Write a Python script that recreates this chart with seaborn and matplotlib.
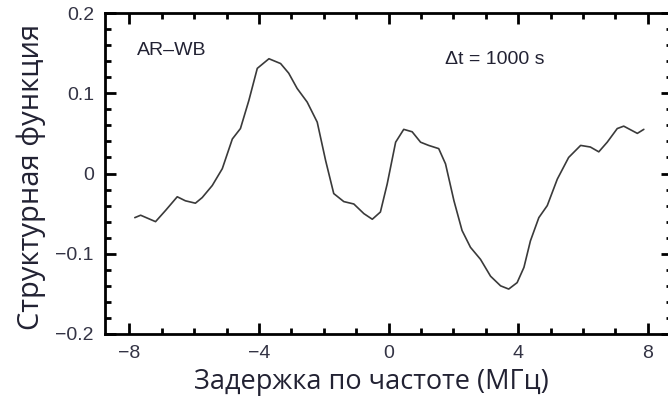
import numpy as np
import pandas as pd
import matplotlib
matplotlib.use("Agg")
import matplotlib.pyplot as plt
from matplotlib.ticker import MultipleLocator
import seaborn as sns

# frequency lag (MHz) and structure function values
lag = [-7.83, -7.65, -7.19, -6.88, -6.52, -6.27, -5.96, -5.75, -5.44, -5.13,
       -4.82, -4.57, -4.31, -4.05, -3.69, -3.33, -3.08, -2.82, -2.51, -2.20,
       -1.94, -1.69, -1.38, -1.07, -0.76, -0.50, -0.25, -0.04, 0.22, 0.47,
       0.73, 0.99, 1.24, 1.55, 1.76, 2.02, 2.27, 2.53, 2.84, 3.15,
       3.46, 3.71, 3.97, 4.18, 4.38, 4.64, 4.90, 5.21, 5.56, 5.93,
       6.23, 6.49, 6.75, 7.06, 7.26, 7.68, 7.88]
sf = [-0.055, -0.052, -0.060, -0.046, -0.029, -0.034, -0.037, -0.030, -0.015, 0.006,
      0.043, 0.056, 0.091, 0.131, 0.143, 0.137, 0.125, 0.106, 0.089, 0.064,
      0.016, -0.025, -0.035, -0.038, -0.050, -0.057, -0.048, -0.013, 0.039, 0.055,
      0.052, 0.039, 0.035, 0.031, 0.012, -0.034, -0.071, -0.092, -0.107, -0.128,
      -0.140, -0.144, -0.136, -0.117, -0.084, -0.055, -0.040, -0.007, 0.020, 0.035,
      0.033, 0.027, 0.039, 0.056, 0.059, 0.050, 0.055]

xlabel = "Задержка по частоте (МГц)"
ylabel = "Структурная функция"

df = pd.DataFrame({"lag": lag, "sf": sf})

sns.set_style("ticks")
plt.rcParams["font.family"] = ["Liberation Sans", "DejaVu Sans"]

fig = plt.figure(figsize=(6.68, 3.97), dpi=100)
ax = fig.add_axes([105 / 668, 1 - 334 / 397, 567 / 668, 321 / 397])

sns.lineplot(data=df, x="lag", y="sf", ax=ax, color="#3a3a3a", linewidth=1.2, sort=False)

ax.set_xlim(-8.75, 8.75)
ax.set_ylim(-0.2, 0.2)
ax.xaxis.set_minor_locator(MultipleLocator(1))
ax.yaxis.set_minor_locator(MultipleLocator(0.02))
ax.set_xticks([-8, -4, 0, 4, 8])
ax.set_xticklabels(["\u22128", "\u22124", "0", "4", "8"])
ax.set_yticks([-0.2, -0.1, 0, 0.1, 0.2])
ax.set_yticklabels(["\u22120.2", "\u22120.1", "0", "0.1", "0.2"])

for s in ax.spines.values():
    s.set_linewidth(2)
    s.set_color("black")
ax.tick_params(which="both", direction="in", top=True, right=True, color="black",
               labelsize=14, labelcolor="#333344", pad=8)
ax.tick_params(which="major", length=8, width=2)
ax.tick_params(which="minor", length=4, width=2)

ax.set_xlabel(xlabel, fontsize=19.5, family="Open Sans", color="#222233")
ax.set_ylabel(ylabel, fontsize=21, family="Open Sans", color="#222233")
ax.xaxis.set_label_coords(0.469, -0.105)
ax.yaxis.set_label_coords(-0.104, 0.49)

ax.text(0.056, 0.87, "AR\u2013WB", transform=ax.transAxes, fontsize=14, color="#222233")
ax.text(0.60, 0.84, "\u0394t = 1000 s", transform=ax.transAxes, fontsize=14, color="#222233")

fig.savefig("out.png", dpi=100)
